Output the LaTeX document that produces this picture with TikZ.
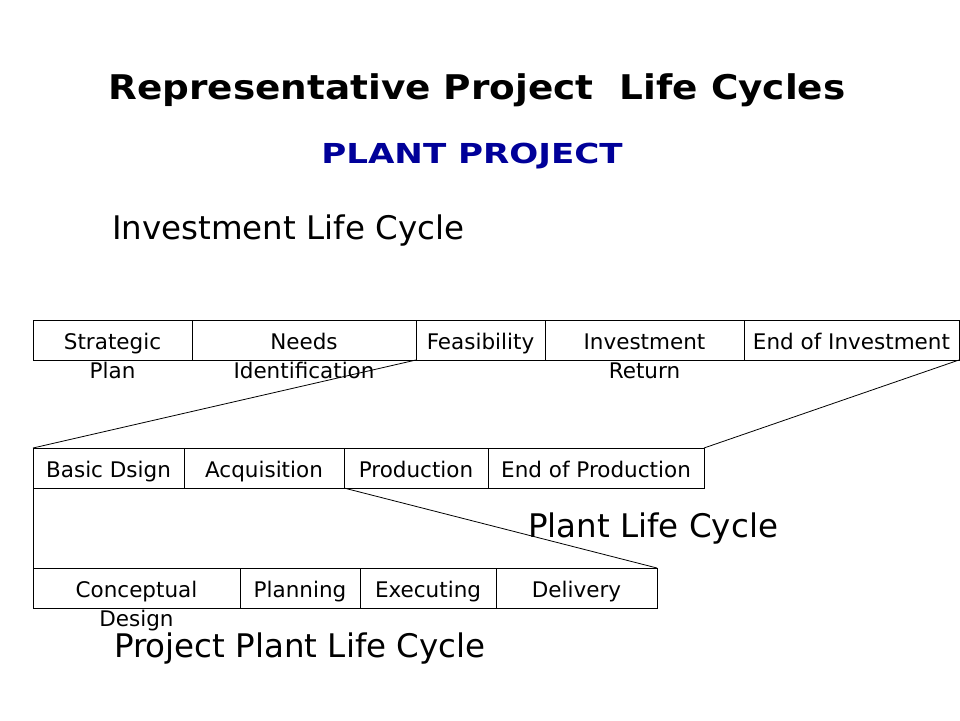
\documentclass[tikz,border=0pt]{standalone}
\usepackage{fontspec}
\setmainfont{DejaVu Sans}
\newfontfamily\titlefont{DejaVu Sans}[FakeStretch=1.1]
\newfontfamily\subfont{DejaVu Sans}[FakeStretch=1.24]
\definecolor{plantblue}{RGB}{0,0,153}
\tikzset{
  stagebox/.style={draw, line width=1pt, minimum height=40pt, inner sep=0pt, outer sep=0pt,
    anchor=north west, font=\fontsize{21.5}{29}\selectfont, text height=20pt, text depth=2pt},
  link/.style={line width=0.8pt},
  heading/.style={inner sep=0pt, anchor=base west, font=\fontsize{32.5}{38}\selectfont},
}
\newcommand{\twoline}[2]{\begin{tabular}[t]{@{}c@{}}#1\\#2\end{tabular}}
\begin{document}
\begin{tikzpicture}[x=1pt,y=-1pt]
\useasboundingbox (0,0) rectangle (960,720);
% titles
\node[inner sep=0pt, anchor=base, font=\fontsize{34}{40}\titlefont\bfseries] (title) at (477,99) {Representative Project\ \ Life Cycles};
\node[inner sep=0pt, anchor=base, font=\fontsize{27.5}{32}\subfont\bfseries, text=plantblue] (sub) at (472,163) {PLANT PROJECT};
\node[heading] (inv) at (112,239) {Investment Life Cycle};
% top row
\node[stagebox, minimum width=159pt] (s1) at (33,320) {\twoline{Strategic}{Plan}};
\node[stagebox, minimum width=224pt] (s2) at (192,320) {\twoline{Needs}{Identification}};
\node[stagebox, minimum width=129pt] (s3) at (416,320) {Feasibility};
\node[stagebox, minimum width=199pt] (s4) at (545,320) {\twoline{Investment}{Return}};
\node[stagebox, minimum width=215pt] (s5) at (744,320) {End of Investment};
% middle row
\node[stagebox, minimum width=151pt] (m1) at (33,448) {Basic Dsign};
\node[stagebox, minimum width=160pt] (m2) at (184,448) {Acquisition};
\node[stagebox, minimum width=144pt] (m3) at (344,448) {Production};
\node[stagebox, minimum width=216pt] (m4) at (488,448) {End of Production};
% bottom row
\node[stagebox, minimum width=207pt] (b1) at (33,568) {\twoline{Conceptual}{Design}};
\node[stagebox, minimum width=120pt] (b2) at (240,568) {Planning};
\node[stagebox, minimum width=136pt] (b3) at (360,568) {Executing};
\node[stagebox, minimum width=161pt] (b4) at (496,568) {Delivery};
% labels
\node[heading] (plant) at (528,537) {Plant Life Cycle};
\node[heading] (proj) at (114,657) {Project Plant Life Cycle};
% connectors
\draw[link] (s3.south west) -- (m1.north west);
\draw[link] (s5.south east) -- (m4.north east);
\draw[link] (m1.south west) -- (b1.north west);
\draw[link] (m2.south east) -- (b4.north east);
\end{tikzpicture}
\end{document}
